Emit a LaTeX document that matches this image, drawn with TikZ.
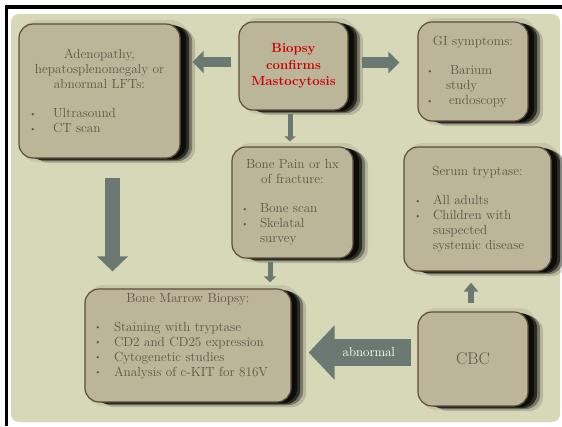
\documentclass[tikz,border=0pt]{standalone}
\usetikzlibrary{shadows,arrows.meta}

\definecolor{panel}{RGB}{214,216,184}
\definecolor{boxfill}{RGB}{187,181,154}
\definecolor{boxline}{RGB}{92,78,58}
\definecolor{txt}{RGB}{92,87,72}
\definecolor{redtxt}{RGB}{204,0,0}
\definecolor{arrowc}{RGB}{106,122,115}

% bullet item: bullet centred #1pt from the left edge, text starting at #2pt
\newcommand\bulletsym{\raisebox{1.2pt}{\fontsize{8}{8}\selectfont\textbullet}}
\newcommand\itm[2]{\leavevmode\rlap{\hspace*{#1pt}\makebox[0pt]{\bulletsym}}\hspace*{#2pt}}
\newcommand\cont[1]{\leavevmode\hspace*{#1pt}}

\tikzset{
  box/.style={
    rounded corners=14pt, draw=boxline, line width=1.2pt, fill=boxfill,
    inner sep=0pt, text=txt, font=\fontsize{13.2}{15}\selectfont,
    execute at begin node={\setlength\parindent{0pt}},
    preaction={draw=black, draw opacity=0.08, line width=8pt, transform canvas={xshift=5pt}},
    drop shadow={shadow xshift=15pt, shadow yshift=-5pt, opacity=0.15, fill=black},
    drop shadow={shadow xshift=12pt, shadow yshift=-3pt, opacity=0.35, fill=black},
    drop shadow={shadow xshift=9pt, shadow yshift=-2pt, opacity=0.6, fill=black},
    drop shadow={shadow xshift=6pt, shadow yshift=-1pt, opacity=0.7, fill=black}
  },
  blk/.style={draw=arrowc, line cap=butt},
}

\begin{document}
\begin{tikzpicture}[x=1pt, y=-1pt]
\useasboundingbox (0,0) rectangle (562,426);
\fill[white] (0,0) rectangle (562,426);

% frame and backdrop
\fill[black] (5,5) rectangle (562,9);
\fill[black] (5,5) rectangle (8,426);
\fill[panel, rounded corners=8pt] (11,14) rectangle (560,422);

% boxes
\node[box, minimum width=161pt, text width=161pt, minimum height=134pt] (adeno) at (99.5,91) {%
  \centering Adenopathy,\\hepatosplenomegaly or\\abnormal LFTs:\par
  \kern14pt\raggedright
  \itm{14}{34}Ultrasound\\
  \itm{14}{34}CT scan\par};

\node[box, minimum width=109pt, text width=109pt, minimum height=88pt,
      font=\fontsize{13.2}{16.5}\selectfont\bfseries, text=redtxt] (bio) at (293.5,66) {%
  \centering Biopsy\\confirms\\Mastocytosis\par};

\node[box, minimum width=110pt, text width=110pt, minimum height=99pt] (gi) at (473,71.5) {%
  \centering GI symptoms:\par
  \kern14pt\raggedright
  \itm{12}{32}Barium\\
  \cont{28}study\\
  \itm{12}{31}endoscopy\par};

\node[box, minimum width=121pt, text width=121pt, minimum height=111pt] (bone) at (292.5,202.5) {%
  \centering Bone Pain or hx\\of fracture:\par
  \kern14pt\raggedright
  \itm{13}{28}Bone scan\\
  \itm{13}{28}Skelatal\\
  \cont{28}survey\par};

\node[box, minimum width=147pt, text width=147pt, minimum height=124pt] (serum) at (477.5,209) {%
  \centering Serum tryptase:\par
  \kern14pt\raggedright
  \itm{14}{29}All adults\\
  \itm{14}{29}Children with\\
  \cont{29}suspected\\
  \cont{29}systemic disease\par};

\node[box, minimum width=206pt, text width=206pt, minimum height=113pt] (marrow) at (188,345.5) {%
  \centering Bone Marrow Biopsy:\par
  \kern14pt\raggedright
  \itm{13}{29}Staining with tryptase\\
  \itm{13}{29}CD2 and CD25 expression\\
  \itm{13}{29}Cytogenetic studies\\
  \itm{13}{29}Analysis of c-KIT for 816V\par
  \kern19pt};

\node[box, minimum width=110pt, minimum height=94pt, font=\fontsize{17}{20}\selectfont] (cbc) at (473,359) {CBC};

% connector anchors
\coordinate (aS) at ([yshift=4pt]bio.west);
\coordinate (bS) at ([yshift=3.5pt]bio.east);
\coordinate (cS) at ([xshift=-3.5pt]bio.south);
\coordinate (dS) at ([xshift=13pt]adeno.south);
\coordinate (eS) at ([xshift=-22.5pt]bone.south);
\coordinate (fS) at ([xshift=-2pt]cbc.north);
\coordinate (gS) at ([yshift=6.5pt]cbc.west);

% block arrows
\draw[blk, line width=10pt, -{Triangle[width=22pt,length=11pt]}, shorten <=7pt, shorten >=12pt]
  (aS) -- (aS -| adeno.east);
\draw[blk, line width=11pt, -{Triangle[width=21pt,length=11pt]}, shorten <=13pt, shorten >=18pt]
  (bS) -- (bS -| gi.west);
\draw[blk, line width=5pt, -{Triangle[width=11pt,length=5pt]}, shorten <=3pt, shorten >=5pt]
  (cS) -- (cS |- bone.north);
\draw[blk, line width=15pt, -{Triangle[width=30pt,length=15pt]}, shorten <=19pt, shorten >=17pt]
  (dS) -- (dS |- marrow.north);
\draw[blk, line width=5pt, -{Triangle[width=12pt,length=6pt]}, shorten <=3pt, shorten >=6pt]
  (eS) -- (eS |- marrow.north);
\draw[blk, line width=6pt, -{Triangle[width=14pt,length=9pt]}, shorten <=8pt, shorten >=11pt]
  (fS) -- (fS |- serum.south);
\draw[blk, line width=27pt, -{Triangle[width=53pt,length=26pt]}, shorten <=6pt, shorten >=17pt]
  (gS) -- (gS -| marrow.east)
  node[pos=0.386, text=white, font=\fontsize{13}{15}\selectfont] (abn) {abnormal};
\end{tikzpicture}
\end{document}
